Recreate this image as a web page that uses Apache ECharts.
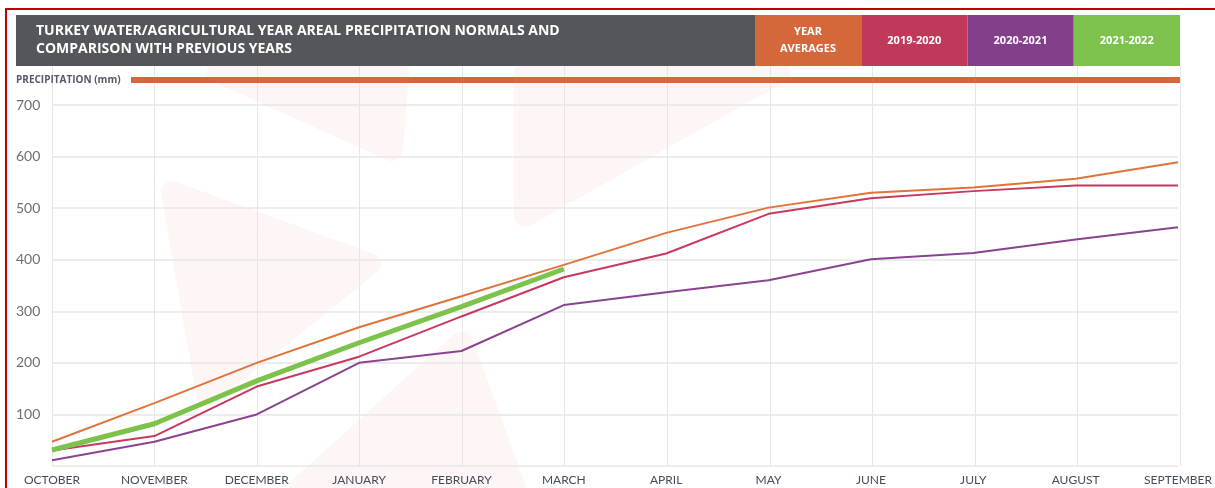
<!DOCTYPE html>
<html>
<head>
<meta charset="utf-8">
<title>Turkey areal precipitation</title>
<script src="https://cdn.jsdelivr.net/npm/echarts@6/dist/echarts.min.js"></script>
<style>
  html, body { margin: 0; padding: 0; background: #fff; }
  #chart { width: 1215px; height: 488px; }
</style>
</head>
<body>
<div id="chart"></div>
<script>
// chart data
const months = ['OCTOBER', 'NOVEMBER', 'DECEMBER', 'JANUARY', 'FEBRUARY', 'MARCH',
  'APRIL', 'MAY', 'JUNE', 'JULY', 'AUGUST', 'SEPTEMBER'];
const yearAverages = [47, 122, 200, 269, 329, 390, 452, 501, 530, 540, 557, 589];
const season1920 = [30, 58, 154, 212, 290, 366, 412, 489, 519, 533, 544, 544];
const season2021 = [11, 47, 100, 200, 223, 312, 337, 360, 401, 413, 439, 463];
const season2122 = [31, 82, 165, 239, 309, 382, null, null, null, null, null, null];
const yTicks = [0, 100, 200, 300, 400, 500, 600, 700];

const legendItems = [
  { label: 'YEAR\nAVERAGES', color: '#d5683a' },
  { label: '2019-2020', color: '#c0395a' },
  { label: '2020-2021', color: '#843f8a' },
  { label: '2021-2022', color: '#7cc24c' },
];

const chart = echarts.init(document.getElementById('chart'), null, { renderer: 'canvas' });

// faint rounded triangles in the background
const watermark = pts => ({
  type: 'polygon',
  z: -10,
  silent: true,
  shape: { points: pts },
  style: { fill: '#fdf6f5', stroke: '#fdf6f5', lineWidth: 22, lineJoin: 'round' },
});

const legendBoxes = [];
legendItems.forEach((item, i) => {
  const x0 = 755 + i * 106.25;
  legendBoxes.push({
    type: 'rect',
    shape: { x: x0, y: 15, width: 106.25, height: 51 },
    style: { fill: item.color },
    z: 10,
  });
  legendBoxes.push({
    type: 'text',
    x: x0 + 53,
    y: 40.5,
    z: 11,
    style: {
      text: item.label,
      fill: '#fff',
      font: 'bold 11px "Open Sans", sans-serif',
      align: 'center',
      verticalAlign: 'middle',
      lineHeight: 17,
    },
  });
});

const lineSeries = (name, data, color, width) => ({
  name,
  type: 'line',
  data,
  showSymbol: false,
  symbol: 'none',
  connectNulls: false,
  lineStyle: { color, width },
  itemStyle: { color },
  xAxisIndex: 0,
  yAxisIndex: 0,
});

chart.setOption({
  animation: false,
  backgroundColor: '#fff',
  grid: [
    { left: 52, right: 35, top: 105, bottom: 22 },
    { left: 52, right: 35, top: 66, bottom: 22 },
  ],
  xAxis: [
    {
      type: 'category',
      data: months,
      boundaryGap: false,
      gridIndex: 0,
      axisLine: { show: false },
      axisTick: { show: false },
      splitLine: { show: false },
      axisLabel: {
        margin: 8,
        color: '#454b5a',
        fontFamily: 'Lato, sans-serif',
        fontSize: 12,
        interval: 0,
      },
    },
    {
      type: 'category',
      data: months,
      boundaryGap: false,
      gridIndex: 1,
      axisLine: { show: false },
      axisTick: { show: false },
      axisLabel: { show: false },
      splitLine: { show: true, lineStyle: { color: '#e6e6e6', width: 1 } },
    },
  ],
  yAxis: [
    {
      type: 'value',
      gridIndex: 0,
      min: yTicks[0],
      max: yTicks[yTicks.length - 1],
      interval: 100,
      axisLine: { show: false },
      axisTick: { show: false },
      splitLine: { show: true, lineStyle: { color: '#e6e6e6', width: 1.5 } },
      axisLabel: {
        align: 'left',
        margin: 36,
        color: '#6e6e6e',
        fontFamily: 'Lato, sans-serif',
        fontSize: 14,
        formatter: v => (v === 0 ? '' : String(v)),
      },
    },
    {
      type: 'value',
      gridIndex: 1,
      show: false,
      min: 0,
      max: 1,
    },
  ],
  series: [
    lineSeries('YEAR AVERAGES', yearAverages, '#e07339', 2),
    lineSeries('2019-2020', season1920, '#c8385f', 2),
    lineSeries('2020-2021', season2021, '#8a4390', 2),
    lineSeries('2021-2022', season2122, '#7dc24b', 5),
  ],
  graphic: [
    watermark([[218, 72], [398, 72], [392, 150]]),
    watermark([[172, 192], [370, 264], [207, 395]]),
    watermark([[525, 72], [525, 216], [780, 72]]),
    watermark([[462, 342], [300, 488], [515, 488]]),
    // red frame
    { type: 'rect', shape: { x: 5, y: 8, width: 1215, height: 2 }, style: { fill: '#c00000' }, z: 10 },
    { type: 'rect', shape: { x: 5, y: 8, width: 2, height: 480 }, style: { fill: '#c00000' }, z: 10 },
    // title bar
    { type: 'rect', shape: { x: 16, y: 15, width: 739, height: 51 }, style: { fill: '#55565b' }, z: 10 },
    {
      type: 'text',
      x: 36,
      y: 40.5,
      z: 11,
      style: {
        text: 'TURKEY WATER/AGRICULTURAL YEAR AREAL PRECIPITATION NORMALS AND\nCOMPARISON WITH PREVIOUS YEARS',
        fill: '#fff',
        font: 'bold 14px "Open Sans", sans-serif',
        verticalAlign: 'middle',
        lineHeight: 18,
      },
    },
    ...legendBoxes,
    // unit label and bar
    {
      type: 'text',
      x: 16,
      y: 80,
      z: 11,
      style: {
        text: 'PRECIPITATION (mm)',
        fill: '#555a66',
        font: 'bold 10px "Open Sans", sans-serif',
        verticalAlign: 'middle',
      },
    },
    { type: 'rect', shape: { x: 131, y: 77, width: 1049, height: 6 }, style: { fill: '#d5683a' }, z: 10 },
  ],
});
</script>
</body>
</html>
